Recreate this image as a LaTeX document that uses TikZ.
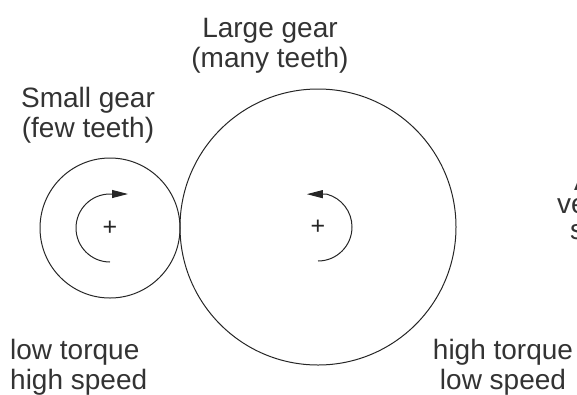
\documentclass[tikz,border=0pt]{standalone}
\usepackage{fontspec}
\setmainfont{Liberation Sans}
\usetikzlibrary{arrows.meta}
\definecolor{GearLine}{HTML}{262626}
\definecolor{GearText}{HTML}{333333}

\begin{document}
\begin{tikzpicture}[x=1pt,y=-1pt,>={Triangle[length=16pt,width=8pt]}]
  \tikzstyle{gear}=[draw=GearLine,line width=1pt,circle,inner sep=0pt]
  \tikzstyle{gtext}=[text=GearText,inner sep=0pt,
    font=\fontsize{28}{30}\selectfont]
  \tikzstyle{hub}=[text=GearLine,inner sep=0pt,font=\fontsize{25}{25}\selectfont]
  \tikzstyle{turn}=[->,draw=GearLine,line width=1pt]
  \useasboundingbox (0,0) rectangle (577,394);
  \clip (0,0) rectangle (577,394);
  % the two gears
  \node[gear,minimum size=140pt] (small) at (110,228) {};
  \node[gear,minimum size=276pt] (large) at (318,227) {};
  \node[hub] (smallhub) at (small.center) {+};
  \node[hub] (largehub) at (large.center) {+};
  % sense of rotation
  \draw[turn] (small.center) ++(0,34) arc[start angle=90,end angle=270,radius=34]
    -- ++(18,0);
  \draw[turn] (large.center) ++(0,34) arc[start angle=90,end angle=-75,radius=34]
    -- ++(-20,0);
  % labels
  \node[gtext,align=center] (smallname) at (88,115) {Small gear\\(few teeth)};
  \node[gtext,align=center] (largename) at (270,46) {Large gear\\(many teeth)};
  \node[gtext,align=left,anchor=west] (smallrate) at (10,367) {low torque\\high speed};
  \node[gtext,align=center] (largerate) at (503,367) {high torque\\low speed};
  % text cut off at the right edge
  \node[gtext,anchor=base west] (edgea) at (574,190) {A};
  \node[gtext,anchor=base west] (edgeb) at (557,213) {ve};
  \node[gtext,anchor=base west] (edgec) at (570,239) {s};
\end{tikzpicture}
\end{document}
